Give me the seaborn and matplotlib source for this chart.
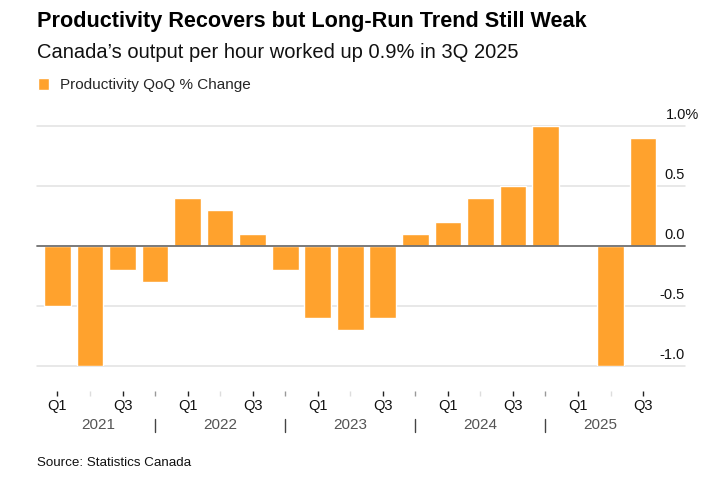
import matplotlib
matplotlib.use('Agg')
import matplotlib.pyplot as plt
import matplotlib.transforms as mtransforms
import seaborn as sns
import numpy as np
import pandas as pd

years = ['2021', '2022', '2023', '2024', '2025']
quarters = ['Q1', 'Q2', 'Q3', 'Q4']
productivity = [-0.5, -1.0, -0.2, -0.3,
                0.4, 0.3, 0.1, -0.2,
                -0.6, -0.7, -0.6, 0.1,
                0.2, 0.4, 0.5, 1.0,
                0.0, -1.0, 0.9]
y_ticks = [-1.0, -0.5, 0.0, 0.5, 1.0]

labels = [f'{q} {y}' for y in years for q in quarters][:len(productivity)]
df = pd.DataFrame({'period': labels, 'change': productivity})

sns.set_theme(style='white')
plt.rcParams['font.family'] = ['Liberation Sans', 'DejaVu Sans']

W, H = 708, 484
fig = plt.figure(figsize=(W / 100, H / 100), dpi=100)
ax = fig.add_axes([37 / W, (H - 366) / H, (685 - 37) / W, 240 / H])

orange = '#ffa22d'
sns.barplot(data=df, x='period', y='change', color=orange, width=0.82,
            saturation=1, ax=ax, label='Productivity QoQ % Change', zorder=2)

ax.set_xlim(-0.63, len(productivity) - 1 + 1.29)
ax.set_ylim(-1.0, 1.0)
for v in y_ticks:
    if v == 0:
        ax.axhline(v, color='#707070', lw=1.3, zorder=3, clip_on=False)
    else:
        ax.axhline(v, color='#e2e2e2', lw=1.1, zorder=1, clip_on=False)

for s in ax.spines.values():
    s.set_visible(False)
ax.set_yticks([])
ax.set_xlabel('')
ax.set_ylabel('')

# right side value labels
ytrans = mtransforms.blended_transform_factory(ax.transAxes, ax.transData)
off = mtransforms.offset_copy(ytrans, fig=fig, x=0, y=3, units='points')
for v in y_ticks:
    if v == 1.0:
        ax.text((666 - 37) / 648, v, f'{v:.1f}%', transform=off, ha='left', va='bottom',
                fontsize=10.5, color='#111111')
    else:
        ax.text(1.0, v, f'{v:.1f}', transform=off, ha='right', va='bottom',
                fontsize=10.5, color='#111111')

# quarter ticks
ax.spines['bottom'].set_position(('outward', 18))
ax.set_xticks(range(len(productivity)))
ax.set_xticklabels([q if q in ('Q1', 'Q3') else '' for q in [l.split()[0] for l in labels]])
ax.tick_params(axis='x', length=3.3, width=1, pad=2.5, labelsize=10.5, labelcolor='#111111', bottom=True)
tick_colors = {'Q1': '#222222', 'Q2': '#dddddd', 'Q3': '#222222', 'Q4': '#999999'}
for t, l in zip(ax.xaxis.get_major_ticks(), labels):
    t.tick1line.set_markeredgecolor(tick_colors[l.split()[0]])

# year labels and separators
xtrans = ax.get_xaxis_transform()
year_pos = [1.25, 5, 9, 13, 16.7]
for yr, xp in zip(years, year_pos):
    ax.text(xp, -0.246, yr, transform=xtrans, ha='center', va='center',
            fontsize=11, color='#555555', clip_on=False)
for xp in [3, 7, 11, 15]:
    ax.plot([xp, xp], [-0.221, -0.275], transform=xtrans, color='#444444', lw=1, clip_on=False)

# legend
ax.legend(loc='center left', bbox_to_anchor=(38 / W, 1 - 85 / H), bbox_transform=fig.transFigure,
          frameon=False, handlelength=0.75, handleheight=0.85, handletextpad=0.7,
          fontsize=11, borderaxespad=0, borderpad=0)

fig.text(37 / W, 1 - 22 / H, 'Productivity Recovers but Long-Run Trend Still Weak',
         fontsize=15.6, fontweight='bold', ha='left', va='center', color='#000000')
fig.text(37 / W, 1 - 53 / H, 'Canada\u2019s output per hour worked up 0.9% in 3Q 2025',
         fontsize=14.5, ha='left', va='center', color='#111111')
fig.text(37 / W, 1 - 463 / H, 'Source: Statistics Canada',
         fontsize=9.6, ha='left', va='center', color='#111111')

fig.savefig('out.png', dpi=100)
